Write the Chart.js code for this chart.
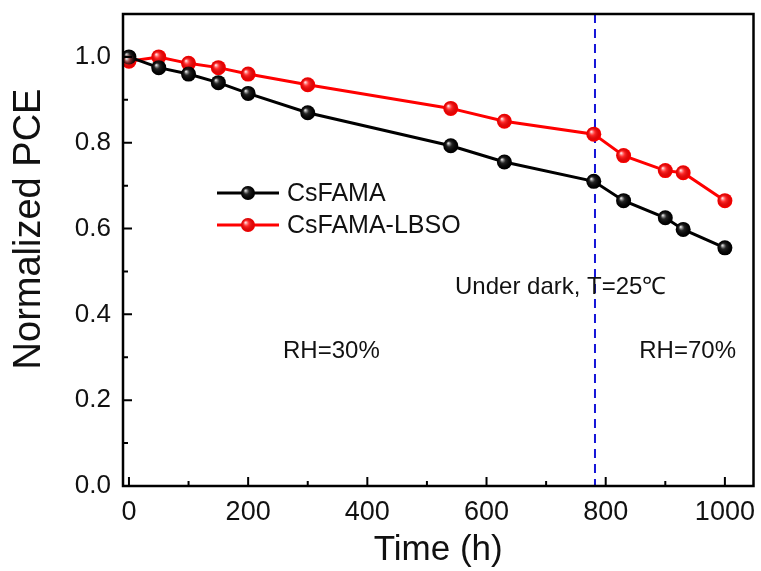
<!DOCTYPE html>
<html>
<head>
<meta charset="utf-8">
<script src="https://cdn.jsdelivr.net/npm/chart.js"></script>
<style>
  html, body { margin: 0; padding: 0; background: #fff; }
  #wrap { width: 761px; height: 571px; }
</style>
</head>
<body>
<div id="wrap"><canvas id="pceChart" width="761" height="571"></canvas></div>
<script>
  const hours = [0, 50, 100, 150, 200, 300, 540, 630, 780, 830, 900, 930, 1000];
  const csfama = [1.0, 0.975, 0.96, 0.94, 0.915, 0.87, 0.793, 0.755, 0.71, 0.665, 0.625, 0.598, 0.555];
  const csfamaLbso = [0.99, 1.0, 0.985, 0.975, 0.96, 0.935, 0.88, 0.85, 0.82, 0.77, 0.735, 0.73, 0.665];
  const xTicks = [0, 200, 400, 600, 800, 1000];
  const yTicks = [0, 0.2, 0.4, 0.6, 0.8, 1.0];
  const darkLineAt = 782;

  const FONT = '"Liberation Sans", Arial, sans-serif';

  // frame, inward ticks, dashed marker, notes and legend
  const decor = {
    id: 'decor',
    beforeDatasetsDraw(chart) {
      const { ctx, chartArea: a, scales: { x } } = chart;
      ctx.save();
      ctx.strokeStyle = '#1515d8';
      ctx.lineWidth = 2;
      ctx.setLineDash([9, 6]);
      const px = x.getPixelForValue(darkLineAt);
      ctx.beginPath();
      ctx.moveTo(px, a.top);
      ctx.lineTo(px, a.bottom);
      ctx.stroke();
      ctx.restore();
    },
    afterDatasetsDraw(chart) {
      const { ctx, chartArea: a, scales: { x, y } } = chart;
      // ball highlights
      chart.data.datasets.forEach((ds, i) => {
        chart.getDatasetMeta(i).data.forEach(pt => ball(ctx, pt.x, pt.y, ds.borderColor));
      });

      ctx.save();
      ctx.strokeStyle = '#000';
      ctx.lineWidth = 2.5;
      ctx.strokeRect(a.left, a.top, a.right - a.left, a.bottom - a.top);
      ctx.lineWidth = 2;
      ctx.beginPath();
      for (let v = 0; v <= 1000; v += 100) {
        const p = x.getPixelForValue(v);
        const len = v % 200 === 0 ? 9 : 5;
        ctx.moveTo(p, a.bottom); ctx.lineTo(p, a.bottom - len);
      }
      for (let k = 0; k <= 10; k++) {
        const p = y.getPixelForValue(k / 10);
        const len = k % 2 === 0 ? 9 : 5;
        ctx.moveTo(a.left, p); ctx.lineTo(a.left + len, p);
      }
      ctx.stroke();

      ctx.fillStyle = '#111';
      ctx.textBaseline = 'middle';
      ctx.textAlign = 'left';
      ctx.font = '24px ' + FONT;
      ctx.fillText('Under dark, T=25\u2103', 455, 287);
      ctx.fillText('RH=30%', 283, 351);
      ctx.textAlign = 'right';
      ctx.fillText('RH=70%', 736, 351);
      ctx.textAlign = 'left';

      // legend
      const items = [['CsFAMA', '#000'], ['CsFAMA-LBSO', '#f00']];
      items.forEach(([label, col], i) => {
        const ly = 193 + i * 32;
        ctx.strokeStyle = col;
        ctx.lineWidth = 3;
        ctx.beginPath();
        ctx.moveTo(217, ly); ctx.lineTo(279, ly);
        ctx.stroke();
        ctx.fillStyle = col;
        ctx.beginPath();
        ctx.arc(248, ly, 7, 0, Math.PI * 2);
        ctx.fill();
        ball(ctx, 248, ly, col);
        ctx.fillStyle = '#111';
        ctx.font = '25px ' + FONT;
        ctx.fillText(label, 287, ly + 1);
      });

      // y axis title
      ctx.translate(30, 229);
      ctx.rotate(-Math.PI / 2);
      ctx.textAlign = 'center';
      ctx.font = '38px ' + FONT;
      ctx.fillText('Normalized PCE', 0, 0);
      ctx.restore();
    }
  };

  function ball(ctx, cx, cy, col) {
    const g = ctx.createRadialGradient(cx - 2.5, cy - 2.5, 0.5, cx, cy, 7.5);
    g.addColorStop(0, 'rgba(255,255,255,0.85)');
    g.addColorStop(0.35, col === '#000' ? 'rgba(60,60,60,0.6)' : 'rgba(255,80,80,0.5)');
    g.addColorStop(1, 'rgba(0,0,0,0)');
    ctx.save();
    ctx.fillStyle = g;
    ctx.beginPath();
    ctx.arc(cx, cy, 7.5, 0, Math.PI * 2);
    ctx.fill();
    ctx.restore();
  }

  const ctx = document.getElementById('pceChart').getContext('2d');
  const pceChart = new Chart(ctx, {
    type: 'line',
    data: {
      datasets: [{
        label: 'CsFAMA',
        data: hours.map((h, i) => ({ x: h, y: csfama[i] })),
        borderColor: '#000',
        backgroundColor: '#000',
        pointBackgroundColor: '#000',
        pointBorderWidth: 0,
        pointRadius: 7.5,
        borderWidth: 3,
        tension: 0
      }, {
        label: 'CsFAMA-LBSO',
        data: hours.map((h, i) => ({ x: h, y: csfamaLbso[i] })),
        borderColor: '#f00',
        backgroundColor: '#f00',
        pointBackgroundColor: '#f00',
        pointBorderWidth: 0,
        pointRadius: 7.5,
        borderWidth: 3,
        tension: 0
      }]
    },
    options: {
      responsive: false,
      animation: false,
      layout: { padding: { top: 14, right: 6, left: 0, bottom: 0 } },
      plugins: {
        legend: { display: false },
        tooltip: { enabled: false }
      },
      scales: {
        x: {
          type: 'linear',
          min: -10,
          max: 1048,
          afterBuildTicks: s => { s.ticks = xTicks.map(v => ({ value: v })); },
          afterFit: s => { s.height = 85; s.paddingLeft = 0; s.paddingRight = 0; },
          grid: { display: false },
          border: { display: false },
          ticks: {
            color: '#111',
            font: { family: FONT, size: 27 },
            padding: 2,
            maxRotation: 0,
            callback: v => String(v)
          },
          title: {
            display: true,
            text: 'Time (h)',
            color: '#111',
            font: { family: FONT, size: 35 },
            padding: { top: 0, bottom: 0 }
          }
        },
        y: {
          min: 0,
          max: 1.1,
          afterBuildTicks: s => { s.ticks = yTicks.map(v => ({ value: v })); },
          afterFit: s => { s.width = 123; s.paddingTop = 0; s.paddingBottom = 0; },
          grid: { display: false },
          border: { display: false },
          ticks: {
            color: '#111',
            font: { family: FONT, size: 26 },
            padding: 4,
            callback: v => v.toFixed(1)
          },
          title: { display: false }
        }
      }
    },
    plugins: [decor]
  });
</script>
</body>
</html>
